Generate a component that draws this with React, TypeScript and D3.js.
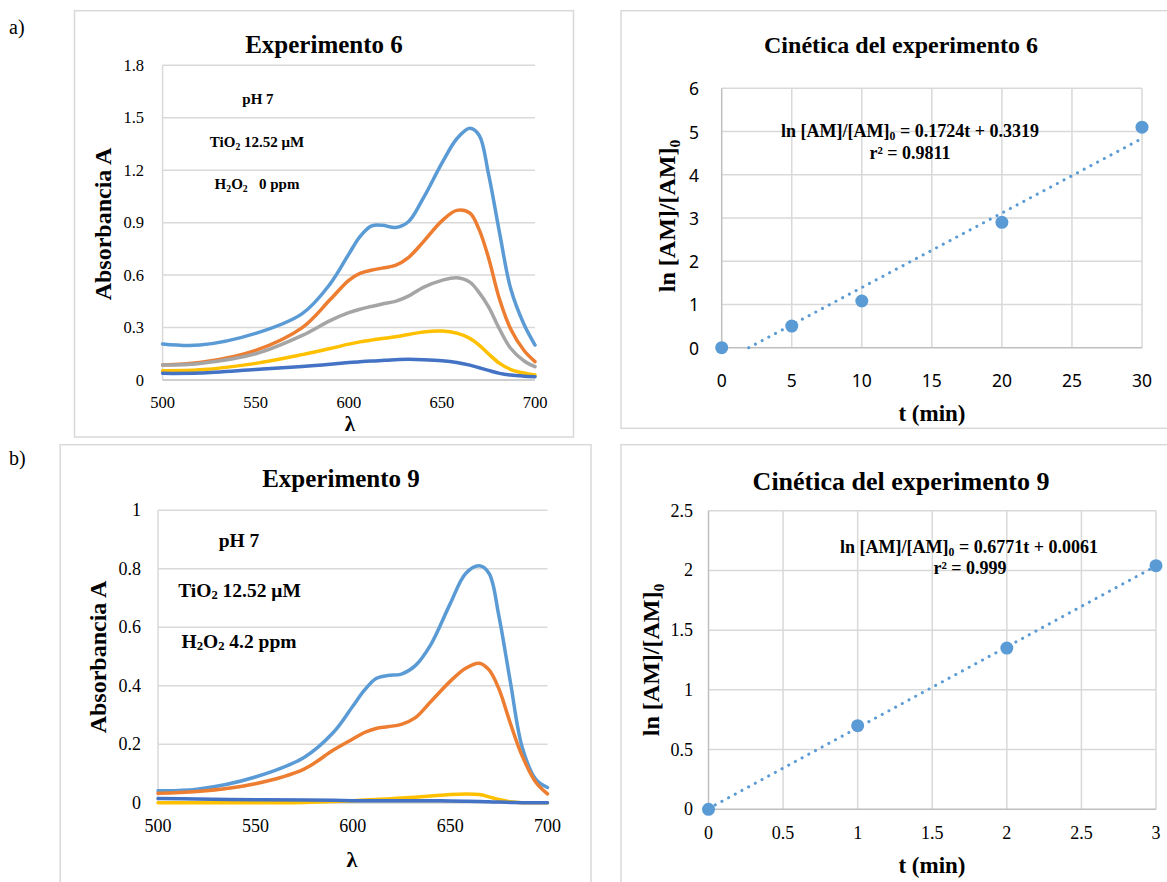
import React from 'react';
import * as d3 from 'd3';

// ---------- DATA ----------
const wavelengths = [500, 520, 550, 575, 590, 600, 606, 612, 618, 625, 632, 640, 650, 658, 665, 670, 675, 681, 687, 694, 700];

const exp6LightBlue = [0.206, 0.2, 0.267, 0.38, 0.55, 0.72, 0.82, 0.88, 0.885, 0.872, 0.905, 1.04, 1.24, 1.38, 1.44, 1.4, 1.18, 0.84, 0.52, 0.32, 0.2];
const exp6Orange = [0.086, 0.1, 0.17, 0.3, 0.46, 0.57, 0.61, 0.628, 0.64, 0.655, 0.7, 0.79, 0.91, 0.97, 0.955, 0.86, 0.7, 0.46, 0.29, 0.17, 0.105];
const exp6Gray = [0.086, 0.095, 0.15, 0.255, 0.34, 0.385, 0.405, 0.42, 0.435, 0.45, 0.48, 0.53, 0.57, 0.585, 0.56, 0.5, 0.42, 0.29, 0.18, 0.11, 0.076];
const exp6Yellow = [0.053, 0.058, 0.095, 0.145, 0.18, 0.205, 0.218, 0.228, 0.237, 0.247, 0.26, 0.275, 0.28, 0.268, 0.238, 0.2, 0.15, 0.095, 0.06, 0.04, 0.029];
const exp6DarkBlue = [0.038, 0.04, 0.06, 0.077, 0.09, 0.1, 0.105, 0.108, 0.112, 0.116, 0.118, 0.116, 0.11, 0.1, 0.085, 0.07, 0.055, 0.038, 0.028, 0.022, 0.019];

const exp9LightBlue = [0.041, 0.046, 0.088, 0.155, 0.24, 0.33, 0.385, 0.425, 0.435, 0.44, 0.468, 0.54, 0.68, 0.784, 0.81, 0.784, 0.64, 0.41, 0.19, 0.08, 0.052];
const exp9Orange = [0.032, 0.038, 0.065, 0.115, 0.18, 0.218, 0.24, 0.254, 0.26, 0.268, 0.29, 0.345, 0.415, 0.46, 0.477, 0.454, 0.39, 0.27, 0.16, 0.07, 0.03];
const exp9Yellow = [0, 0, 0, 0.001, 0.004, 0.007, 0.009, 0.011, 0.013, 0.016, 0.019, 0.023, 0.028, 0.03, 0.028, 0.02, 0.011, 0.003, 0, 0, 0];
const exp9DarkBlue = [0.014, 0.013, 0.01, 0.009, 0.008, 0.007, 0.007, 0.007, 0.007, 0.007, 0.007, 0.007, 0.006, 0.005, 0.004, 0.003, 0.002, 0.001, 0, 0, 0];

const seriesColors = { lightBlue: '#5B9BD5', orange: '#ED7D31', gray: '#A5A5A5', yellow: '#FFC000', darkBlue: '#4472C4' };

const spectrumXTicks = [500, 550, 600, 650, 700];
const exp6YTicks = [0, 0.3, 0.6, 0.9, 1.2, 1.5, 1.8];
const exp9YTicks = [0, 0.2, 0.4, 0.6, 0.8, 1];

const kin6Time = [0, 5, 10, 20, 30];
const kin6Value = [0, 0.5, 1.08, 2.9, 5.1];
const kin6Slope = 0.1724;
const kin6Intercept = -0.3319;
const kin6XTicks = [0, 5, 10, 15, 20, 25, 30];
const kin6YTicks = [0, 1, 2, 3, 4, 5, 6];

const kin9Time = [0, 1, 2, 3];
const kin9Value = [0, 0.7, 1.35, 2.04];
const kin9Slope = 0.6771;
const kin9Intercept = 0.0061;
const kin9XTicks = [0, 0.5, 1, 1.5, 2, 2.5, 3];
const kin9YTicks = [0, 0.5, 1, 1.5, 2, 2.5];

const SERIF = '"Liberation Serif", "Times New Roman", serif';
const SANS = '"Noto Sans", "Open Sans", sans-serif';
const GRID = '#d9d9d9';
const AXIS = '#bfbfbf';
const FRAME = '#d9d9d9';

type Box = { left: number; right: number; top: number; bottom: number };

function SpectrumPanel(props: {
  plot: Box; yMax: number; yTicks: number[]; series: { values: number[]; color: string }[];
  tickSize: number; yLabelRight: number; xLabelY: number;
}) {
  const { plot, yMax, yTicks, series, tickSize, yLabelRight, xLabelY } = props;
  const x = d3.scaleLinear().domain([500, 700]).range([plot.left, plot.right]);
  const y = d3.scaleLinear().domain([0, yMax]).range([plot.bottom, plot.top]);
  const line = d3.line<number>()
    .x((_, i) => x(wavelengths[i]))
    .y((d) => y(d))
    .curve(d3.curveCatmullRom.alpha(0.5));
  return (
    <g>
      {yTicks.filter((t) => t > 0).map((t) => (
        <line key={'g' + t} x1={plot.left} x2={plot.right} y1={y(t)} y2={y(t)} stroke={GRID} strokeWidth={1.5} />
      ))}
      <line x1={plot.left} x2={plot.left} y1={plot.top} y2={plot.bottom} stroke={GRID} strokeWidth={1.5} />
      <line x1={plot.left} x2={plot.right} y1={y(0)} y2={y(0)} stroke={AXIS} strokeWidth={1.5} />
      {yTicks.map((t) => (
        <text key={'y' + t} x={yLabelRight} y={y(t)} textAnchor="end" dominantBaseline="central" fontSize={tickSize} fontFamily={SERIF}>{String(t)}</text>
      ))}
      {spectrumXTicks.map((t) => (
        <text key={'x' + t} x={x(t)} y={xLabelY} textAnchor="middle" dominantBaseline="central" fontSize={tickSize} fontFamily={SERIF}>{String(t)}</text>
      ))}
      {series.map((s, i) => (
        <path key={i} d={line(s.values) || ''} fill="none" stroke={s.color} strokeWidth={3.5} strokeLinejoin="round" strokeLinecap="round" />
      ))}
    </g>
  );
}

function KineticsPanel(props: {
  plot: Box; xMax: number; yMax: number; xTicks: number[]; yTicks: number[];
  times: number[]; values: number[]; slope: number; intercept: number;
  tickFont: string; tickSize: number; yLabelRight: number; xLabelY: number;
}) {
  const { plot, xMax, yMax, xTicks, yTicks, times, values, slope, intercept, tickFont, tickSize, yLabelRight, xLabelY } = props;
  const x = d3.scaleLinear().domain([0, xMax]).range([plot.left, plot.right]);
  const y = d3.scaleLinear().domain([0, yMax]).range([plot.bottom, plot.top]);
  const tStart = Math.max(0, -intercept / slope);
  const trend = d3.line<number>().x((t) => x(t)).y((t) => y(slope * t + intercept));
  return (
    <g>
      {yTicks.filter((t) => t > 0).map((t) => (
        <line key={'gy' + t} x1={plot.left} x2={plot.right} y1={y(t)} y2={y(t)} stroke={GRID} strokeWidth={1.5} />
      ))}
      {xTicks.filter((t) => t > 0).map((t) => (
        <line key={'gx' + t} x1={x(t)} x2={x(t)} y1={plot.top} y2={plot.bottom} stroke={GRID} strokeWidth={1.5} />
      ))}
      <line x1={plot.left} x2={plot.left} y1={plot.top} y2={plot.bottom} stroke={AXIS} strokeWidth={1.5} />
      <line x1={plot.left} x2={plot.right} y1={plot.bottom} y2={plot.bottom} stroke={AXIS} strokeWidth={1.5} />
      {yTicks.map((t) => (
        <text key={'y' + t} x={yLabelRight} y={y(t)} textAnchor="end" dominantBaseline="central" fontSize={tickSize} fontFamily={tickFont}>{String(t)}</text>
      ))}
      {xTicks.map((t) => (
        <text key={'x' + t} x={x(t)} y={xLabelY} textAnchor="middle" dominantBaseline="central" fontSize={tickSize} fontFamily={tickFont}>{String(t)}</text>
      ))}
      <path d={trend([tStart, xMax]) || ''} fill="none" stroke="#5B9BD5" strokeWidth={3} strokeLinecap="round" strokeDasharray="0.1 7.5" />
      {times.map((t, i) => (
        <circle key={i} cx={x(t)} cy={y(values[i])} r={6.5} fill="#5B9BD5" />
      ))}
    </g>
  );
}

function SubText(props: { x: number; y: number; size: number; parts: (string | [string])[]; anchor?: string; transform?: string }) {
  const { x, y, size, parts, anchor = 'middle', transform } = props;
  const shift = size * 0.28;
  let lastSub = false;
  const children: any[] = [];
  parts.forEach((p, i) => {
    if (Array.isArray(p)) {
      children.push(<tspan key={i} dy={lastSub ? 0 : shift} fontSize={size * 0.65}>{p[0]}</tspan>);
      lastSub = true;
    } else {
      children.push(<tspan key={i} dy={lastSub ? -shift : 0}>{p}</tspan>);
      lastSub = false;
    }
  });
  return (
    <text x={transform ? 0 : x} y={transform ? 0 : y} transform={transform} textAnchor={anchor as any} dominantBaseline="central" fontSize={size} fontWeight="bold" fontFamily={SERIF} style={{ whiteSpace: 'pre' }}>
      {children}
    </text>
  );
}

export default function App() {
  const tlPlot = { left: 162.6, right: 535, top: 65.3, bottom: 380 };
  const blPlot = { left: 158, right: 547.5, top: 510.3, bottom: 802.7 };
  const trPlot = { left: 721.7, right: 1142, top: 88.3, bottom: 347.7 };
  const brPlot = { left: 708.5, right: 1156, top: 510.7, bottom: 809.3 };

  const exp6Series = [
    { values: exp6LightBlue, color: seriesColors.lightBlue },
    { values: exp6Orange, color: seriesColors.orange },
    { values: exp6Gray, color: seriesColors.gray },
    { values: exp6Yellow, color: seriesColors.yellow },
    { values: exp6DarkBlue, color: seriesColors.darkBlue },
  ];
  const exp9Series = [
    { values: exp9LightBlue, color: seriesColors.lightBlue },
    { values: exp9Orange, color: seriesColors.orange },
    { values: exp9Yellow, color: seriesColors.yellow },
    { values: exp9DarkBlue, color: seriesColors.darkBlue },
  ];

  return (
    <svg width={1167} height={882} style={{ position: 'absolute', left: 0, top: 0, background: '#fff' }} fontFamily={SERIF}>
      <rect x={0} y={0} width={1167} height={882} fill="#fff" />
      {/* frames */}
      <rect x={74.5} y={10.7} width={499} height={426.3} fill="none" stroke={FRAME} strokeWidth={1.5} />
      <rect x={621} y={10.7} width={600} height={417.6} fill="none" stroke={FRAME} strokeWidth={1.5} />
      <rect x={60.2} y={444.7} width={530.8} height={500} fill="none" stroke={FRAME} strokeWidth={1.5} />
      <rect x={621} y={444.7} width={600} height={500} fill="none" stroke={FRAME} strokeWidth={1.5} />

      <text x={9} y={27} fontSize={20} dominantBaseline="central">a)</text>
      <text x={9} y={458} fontSize={20} dominantBaseline="central">b)</text>

      {/* Top-left: Experimento 6 */}
      <text x={324} y={44} textAnchor="middle" dominantBaseline="central" fontSize={25} fontWeight="bold">Experimento 6</text>
      <SpectrumPanel plot={tlPlot} yMax={1.8} yTicks={exp6YTicks} series={exp6Series} tickSize={16.5} yLabelRight={144} xLabelY={402} />
      <text transform="translate(103,224) rotate(-90)" textAnchor="middle" dominantBaseline="central" fontSize={24} fontWeight="bold">Absorbancia A</text>
      <text x={350} y={424} textAnchor="middle" dominantBaseline="central" fontSize={21} fontWeight="bold">λ</text>
      <SubText x={258} y={99} size={15} parts={['pH 7']} />
      <SubText x={257} y={141.5} size={15} parts={['TiO', ['2'], ' 12.52 μM']} />
      <SubText x={257} y={184} size={15} parts={['H', ['2'], 'O', ['2'], '   0 ppm']} />

      {/* Bottom-left: Experimento 9 */}
      <text x={341} y={478} textAnchor="middle" dominantBaseline="central" fontSize={25} fontWeight="bold">Experimento 9</text>
      <SpectrumPanel plot={blPlot} yMax={1} yTicks={exp9YTicks} series={exp9Series} tickSize={18} yLabelRight={141} xLabelY={826} />
      <text transform="translate(98,657) rotate(-90)" textAnchor="middle" dominantBaseline="central" fontSize={24} fontWeight="bold">Absorbancia A</text>
      <text x={352} y={859} textAnchor="middle" dominantBaseline="central" fontSize={22} fontWeight="bold">λ</text>
      <SubText x={239} y={540} size={19.5} parts={['pH 7']} />
      <SubText x={239.5} y={590} size={19.5} parts={['TiO', ['2'], ' 12.52 μM']} />
      <SubText x={239} y={641} size={19.5} parts={['H', ['2'], 'O', ['2'], ' 4.2 ppm']} />

      {/* Top-right: kinetics 6 */}
      <text x={901} y={45} textAnchor="middle" dominantBaseline="central" fontSize={24} fontWeight="bold">Cinética del experimento 6</text>
      <KineticsPanel plot={trPlot} xMax={30} yMax={6} xTicks={kin6XTicks} yTicks={kin6YTicks} times={kin6Time} values={kin6Value}
        slope={kin6Slope} intercept={kin6Intercept} tickFont={SANS} tickSize={17.5} yLabelRight={699} xLabelY={380} />
      <SubText x={0} y={0} size={24} transform="translate(667,216) rotate(-90)" parts={['ln [AM]/[AM]', ['0']]} />
      <text x={932} y={413} textAnchor="middle" dominantBaseline="central" fontSize={23} fontWeight="bold">t (min)</text>
      <SubText x={910} y={131} size={18} parts={['ln [AM]/[AM]', ['0'], ' = 0.1724t + 0.3319']} />
      <SubText x={910} y={153} size={18} parts={['r² = 0.9811']} />

      {/* Bottom-right: kinetics 9 */}
      <text x={901} y={481} textAnchor="middle" dominantBaseline="central" fontSize={26} fontWeight="bold">Cinética del experimento 9</text>
      <KineticsPanel plot={brPlot} xMax={3} yMax={2.5} xTicks={kin9XTicks} yTicks={kin9YTicks} times={kin9Time} values={kin9Value}
        slope={kin9Slope} intercept={kin9Intercept} tickFont={SERIF} tickSize={18} yLabelRight={693} xLabelY={833} />
      <SubText x={0} y={0} size={24} transform="translate(651,660) rotate(-90)" parts={['ln [AM]/[AM]', ['0']]} />
      <text x={932} y={865} textAnchor="middle" dominantBaseline="central" fontSize={23} fontWeight="bold">t (min)</text>
      <SubText x={969} y={547} size={18} parts={['ln [AM]/[AM]', ['0'], ' = 0.6771t + 0.0061']} />
      <SubText x={970} y={568} size={18} parts={['r² = 0.999']} />
    </svg>
  );
}
